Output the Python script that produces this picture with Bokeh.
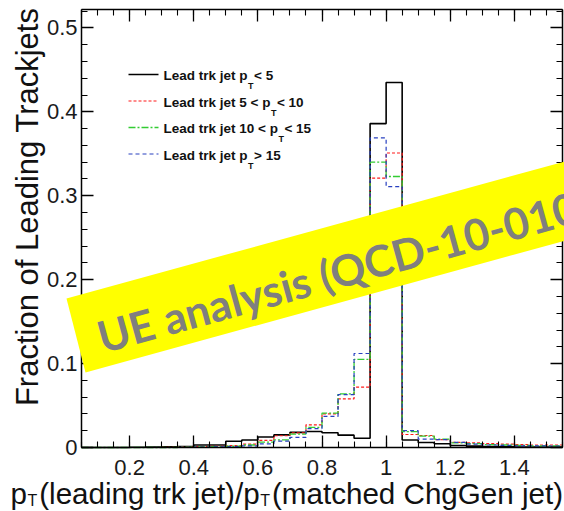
import math
from bokeh.plotting import figure
from bokeh.models import (Range1d, FixedTicker, LinearAxis, Label, Arrow,
                          PolyAnnotation, CustomJSTickFormatter)
from bokeh.embed import file_html
from bokeh.resources import INLINE

# ---------------- data ----------------
bin_edges = [round(0.05 + 0.05 * i, 2) for i in range(31)]  # 0.05 ... 1.55

frac_pt_lt5 = [0.0, 0.0, 0.0, 0.0003, 0.0005, 0.0008, 0.001, 0.003, 0.003, 0.0075,
               0.009, 0.0125, 0.015, 0.018, 0.019, 0.0175, 0.0147, 0.011, 0.386, 0.435,
               0.009, 0.006, 0.0044, 0.0024, 0.0016, 0.001, 0.0008, 0.0006, 0.0005, 0.0004]
frac_pt_5_10 = [0.0, 0.0, 0.0, 0.0, 0.0, 0.0002, 0.0005, 0.001, 0.0015, 0.0024,
                0.004, 0.0085, 0.014, 0.0175, 0.027, 0.040, 0.058, 0.072, 0.321, 0.351,
                0.0155, 0.0143, 0.0095, 0.006, 0.0055, 0.0045, 0.004, 0.0035, 0.003, 0.003]
frac_pt_10_15 = [0.0, 0.0, 0.0, 0.0, 0.0, 0.0, 0.0003, 0.0006, 0.001, 0.0015,
                 0.003, 0.0065, 0.009, 0.016, 0.024, 0.041, 0.064, 0.105, 0.340, 0.323,
                 0.019, 0.0135, 0.010, 0.0055, 0.0045, 0.0035, 0.003, 0.0025, 0.002, 0.002]
frac_pt_gt15 = [0.0, 0.0, 0.0, 0.0, 0.0, 0.0, 0.0002, 0.0004, 0.0008, 0.0012,
                0.002, 0.0044, 0.0075, 0.012, 0.0226, 0.037, 0.063, 0.112, 0.369, 0.311,
                0.020, 0.010, 0.0095, 0.006, 0.004, 0.003, 0.0025, 0.002, 0.002, 0.0018]

x_ticks = [0.2, 0.4, 0.6, 0.8, 1.0, 1.2, 1.4]
x_tick_labels = ["0.2", "0.4", "0.6", "0.8", "1", "1.2", "1.4"]
y_ticks = [0.0, 0.1, 0.2, 0.3, 0.4, 0.5]
y_tick_labels = ["0", "0.1", "0.2", "0.3", "0.4", "0.5"]

legend_prefix = ["Lead trk jet p", "Lead trk jet 5 < p", "Lead trk jet 10 < p", "Lead trk jet p"]
legend_suffix = [" < 5", " < 10", " < 15", " > 15"]
banner_text = "UE analysis (QCD-10-010)"
y_title = "Fraction of Leading Trackjets"
x_title_parts = ["p", "(leading trk jet)/p", "(matched ChgGen jet)"]

# ---------------- styles ----------------
series = [
    (frac_pt_lt5, "#000000", "solid", 1.6),
    (frac_pt_5_10, "#ff1a1a", "3 2", 1.2),
    (frac_pt_10_15, "#33cc33", "7 2 2 2", 1.3),
    (frac_pt_gt15, "#2840c0", "4 3", 1.2),
]

REG = {" ": 278, "(": 333, ")": 333, "/": 278, "<": 584, ">": 584, "C": 722, "G": 778,
       "L": 556, "T": 611, "a": 556, "c": 500, "d": 556, "e": 556, "g": 556, "h": 556,
       "i": 222, "j": 222, "k": 500, "l": 222, "m": 833, "n": 556, "p": 556, "r": 333,
       "t": 278}
BOLD = {" ": 278, "<": 584, ">": 584, "L": 611, "T": 611, "a": 556, "d": 611, "e": 556,
        "j": 278, "k": 556, "p": 611, "r": 389, "t": 333}


def tw(s, size, bold=False):
    tab = BOLD if bold else REG
    return sum(tab.get(c, 556) for c in s) * size / 1000.0


FONT = "Liberation Sans"
DESC = 0.2   # empirical shift of the rendered baseline, in em
W, H = 564, 511
FL, FR, FT, FB = 81, 562, 9, 447          # data box in canvas pixels
X0, X1 = 0.05, 1.55
Y0, Y1 = 0.0, 0.522
kx = (FR - FL) / (X1 - X0)
ky = (FB - FT) / (Y1 - Y0)

p = figure(width=W, height=H, output_backend="svg", toolbar_location=None,
           x_range=Range1d(X0 - FL / kx, X1 + (W - FR) / kx),
           y_range=Range1d(Y0 - (H - FB) / ky, Y1 + FT / ky),
           min_border=0, x_axis_type=None, y_axis_type=None)
p.xgrid.visible = False
p.ygrid.visible = False
p.outline_line_color = None
p.background_fill_color = "white"
p.border_fill_color = "white"


def add_text(px, py, text, size, bold=False, angle=0.0, align="left", color="#111111",
             font=FONT):
    # (px, py): wanted baseline anchor in canvas pixels (y down)
    d = DESC * size
    ax = px - d * math.sin(angle)
    ay = py - d * math.cos(angle)
    p.add_layout(Label(x=ax, y=H - ay, x_units="screen", y_units="screen", text=text,
                       angle=angle, text_font=font, text_font_size=f"{size}px",
                       text_font_style="bold" if bold else "normal", text_color=color,
                       text_baseline="alphabetic", text_align=align))


x_minor = [round(0.05 * i, 2) for i in range(1, 32)]
y_minor = [round(0.02 * i, 2) for i in range(0, 27)]


def make_axis(ticks, minor, labels, show, loc, bounds):
    ax = LinearAxis(ticker=FixedTicker(ticks=ticks, minor_ticks=minor),
                    fixed_location=loc, bounds=bounds,
                    major_tick_in=12, major_tick_out=0, minor_tick_in=6, minor_tick_out=0,
                    axis_line_width=1.5, axis_line_color="black",
                    major_tick_line_width=1.3, minor_tick_line_width=1.1,
                    major_tick_line_color="black", minor_tick_line_color="black")
    if show:
        ax.major_label_overrides = dict(zip(ticks, labels))
        ax.major_label_text_font = FONT
        ax.major_label_text_font_size = "22px"
        ax.major_label_text_color = "#1a1a1a"
    else:
        ax.formatter = CustomJSTickFormatter(code="return ''")
        ax.major_label_text_font_size = "0px"
        ax.major_label_standoff = 0
    return ax


xb = make_axis(x_ticks, x_minor, x_tick_labels, True, Y0, (X0, X1))
xb.major_label_standoff = 12
p.add_layout(xb, "below")
yl = make_axis(y_ticks, y_minor, y_tick_labels, True, X0, (Y0, Y1))
yl.major_label_standoff = 4
p.add_layout(yl, "left")
p.add_layout(make_axis(x_ticks, x_minor, x_tick_labels, False, Y1, (X0, X1)), "above")
p.add_layout(make_axis(y_ticks, y_minor, y_tick_labels, False, X1, (Y0, Y1)), "right")

# histograms
for vals, col, dash, lw in series:
    p.step(x=bin_edges, y=list(vals) + [vals[-1]], mode="after",
           line_color=col, line_dash=dash, line_width=lw)

# x axis title with subscripts
fs, fsub = 29.6, 16
cur = 10
for i, part in enumerate(x_title_parts):
    add_text(cur, 499, part, fs)
    cur += tw(part, fs)
    if i < 2:
        add_text(cur + 0.5, 503.5, "T", fsub)
        cur += tw("T", fsub) + 2.5

# y axis title (reads bottom to top, ends at the top)
add_text(33, 7, y_title, 31, angle=math.pi / 2, align="right")

# legend
lf, lsub = 13.5, 9
for i, (vals, col, dash, lw) in enumerate(series):
    b = 78 + 26.5 * i
    p.add_layout(Arrow(x_start=128, y_start=H - (b - 4), x_end=158, y_end=H - (b - 4),
                       start_units="screen", end_units="screen", end=None,
                       line_color=col, line_dash=dash, line_width=lw))
    tx = 163
    add_text(tx, b, legend_prefix[i], lf, bold=True)
    tx += tw(legend_prefix[i], lf, True)
    add_text(tx + 0.5, b + 9.5, "T", lsub, bold=True)
    tx += tw("T", lsub, True) + 1
    add_text(tx, b, legend_suffix[i], lf, bold=True)

# banner
slope = 0.275
tl = (66, 298)
bl = (85, 372)
ext = 560
poly_x = [tl[0], tl[0] + ext, bl[0] + ext, bl[0]]
poly_y = [tl[1], tl[1] - slope * ext, bl[1] - slope * ext, bl[1]]
p.add_layout(PolyAnnotation(xs=poly_x, ys=[H - v for v in poly_y],
                            xs_units="screen", ys_units="screen",
                            fill_color="#ffff00", fill_alpha=1.0, line_alpha=0.0))
add_text(100, 345, banner_text, 43.5, bold=True, angle=math.atan(slope),
         color="#7f7f7f", font="Lato")

open("out.html", "w").write(file_html(p, INLINE))
